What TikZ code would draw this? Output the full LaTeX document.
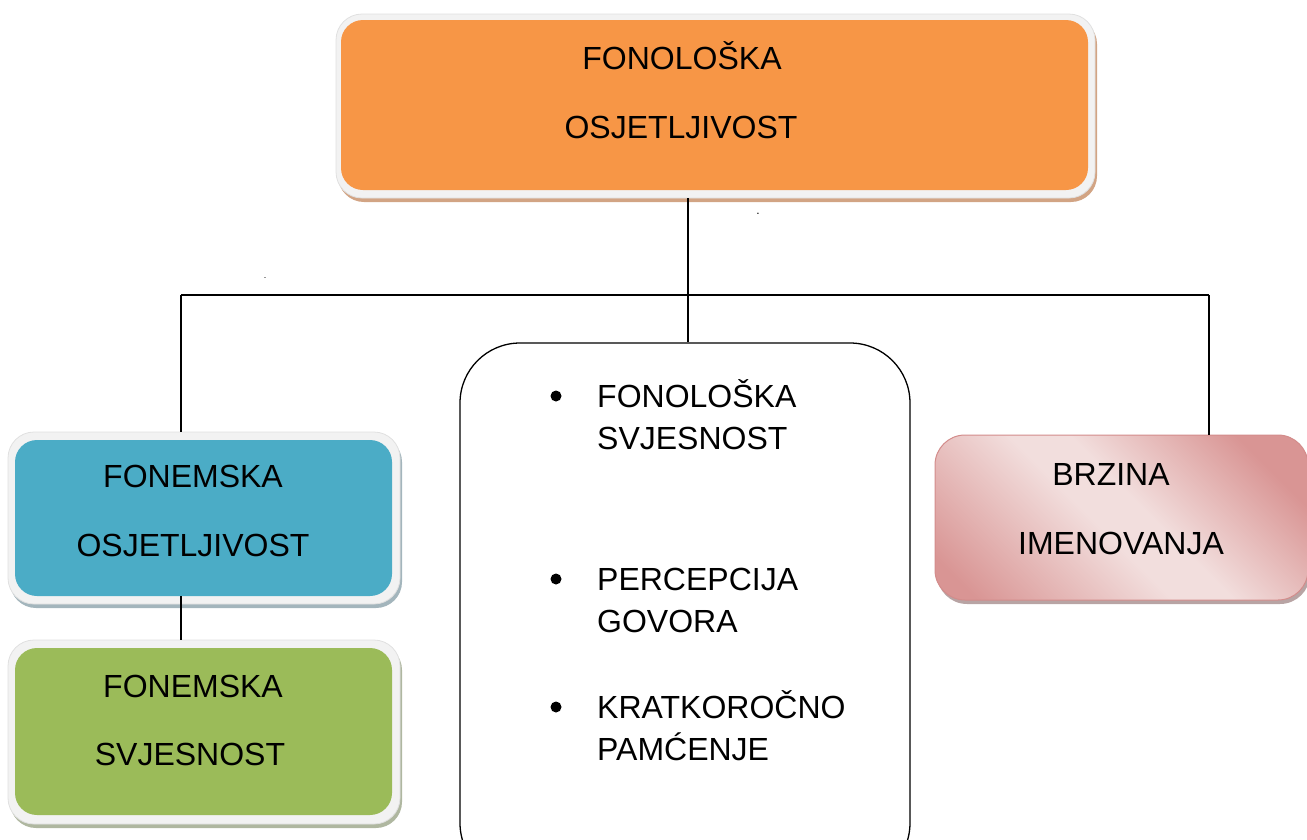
\documentclass[tikz,border=0pt]{standalone}
\usepackage{fontspec}
\setmainfont{Liberation Sans}
\usetikzlibrary{calc}
\definecolor{orfill}{HTML}{F79646}
\definecolor{orshadow}{HTML}{D2A484}
\definecolor{blfill}{HTML}{4BACC6}
\definecolor{blshadow}{HTML}{A3B5BC}
\definecolor{grfill}{HTML}{9BBB59}
\definecolor{grshadow}{HTML}{AFB7A0}
\definecolor{cardbg}{HTML}{F2F2F2}
\definecolor{cardedge}{HTML}{E0E0E0}
\definecolor{pklight}{HTML}{F2DEDD}
\definecolor{pkdark}{HTML}{D99594}
\definecolor{pkedge}{HTML}{D38C8B}
\definecolor{pkshadow}{HTML}{B8A4A4}
\pgfdeclareverticalshading{pinkband}{100bp}{color(0bp)=(pkdark); color(20bp)=(pkdark); color(46bp)=(pklight); color(54bp)=(pklight); color(76bp)=(pkdark); color(100bp)=(pkdark)}
\newcommand\boxfont{\fontsize{32}{40}\selectfont}
\tikzset{
  card/.style={draw=cardedge, line width=0.8pt, fill=cardbg, rounded corners=26pt, inner sep=0pt},
  cardin/.style={fill=#1, rounded corners=22pt, inner sep=0pt},
  txt/.style={font=\boxfont, anchor=base, inner sep=0pt},
  ltxt/.style={font=\boxfont, anchor=base west, inner sep=0pt},
  conn/.style={line width=2pt, black},
  bul/.style={circle, fill=black, inner sep=0pt, minimum size=11pt},
}
\begin{document}
\begin{tikzpicture}[x=1pt, y=-1pt]
\useasboundingbox (0,0) rectangle (1307,839);
\clip (0,0) rectangle (1307,839);
% shadows
\fill[orshadow, rounded corners=26pt] (338,18) rectangle (1097,202);
\fill[blshadow, rounded corners=26pt] (10,436) rectangle (402,608);
\fill[grshadow, rounded corners=26pt] (10,644) rectangle (402,828);
\fill[pkshadow, rounded corners=30pt] (937,439) rectangle (1310,604);
% top box
\node[card, minimum width=759pt, minimum height=184pt] (topouter) at (715.5,106) {};
\node[cardin=orfill, minimum width=747pt, minimum height=170pt] (top) at (714.5,105) {};
\node[txt] (t1) at (682,69) {FONOLOŠKA};
\node[txt] (t2) at (681,138) {OSJETLJIVOST};
% blue box
\node[card, minimum width=392pt, minimum height=172pt] (blueouter) at (204,518) {};
\node[cardin=blfill, minimum width=377pt, minimum height=156pt] (blue) at (203.5,518) {};
\node[txt] (b1) at (193,487) {FONEMSKA};
\node[txt] (b2) at (193,556) {OSJETLJIVOST};
% green box
\node[card, minimum width=392pt, minimum height=184pt] (greenouter) at (204,732) {};
\node[cardin=grfill, minimum width=377pt, minimum height=167pt] (green) at (203.5,731.5) {};
\node[txt] (g1) at (193,697) {FONEMSKA};
\node[txt] (g2) at (190,765) {SVJESNOST};
% pink box
\path[shading=pinkband, shading angle=-45, rounded corners=30pt] (935,435) rectangle (1308,600);
\node[draw=pkedge, line width=1pt, rounded corners=30pt, minimum width=373pt, minimum height=165pt, inner sep=0pt] (pink) at (1121.5,517.5) {};
\node[txt] (p1) at (1111,485) {BRZINA};
\node[txt] (p2) at (1121,554) {IMENOVANJA};
% middle box
\node[draw=black, line width=1.3pt, fill=white, rounded corners=60pt, minimum width=450pt, minimum height=540pt, inner sep=0pt] (mid) at (685,613) {};
\node[bul] (m1b) at (556,396) {};
\node[ltxt] (m1) at (597,407) {FONOLOŠKA};
\node[ltxt] (m1x) at (597,449) {SVJESNOST};
\node[bul] (m2b) at (556,579) {};
\node[ltxt] (m2) at (597,590) {PERCEPCIJA};
\node[ltxt] (m2x) at (597,632) {GOVORA};
\node[bul] (m3b) at (556,707) {};
\node[ltxt] (m3) at (597,718) {KRATKOROČNO};
\node[ltxt] (m3x) at (597,760) {PAMĆENJE};
% stray dots
\node[font=\fontsize{12}{12}\selectfont, inner sep=0pt] (d1) at (758,214) {.};
\node[font=\fontsize{9}{9}\selectfont, inner sep=0pt] (d2) at (265,278) {.};
% connectors
\coordinate (j) at (688,295);
\coordinate (jl) at (181,295);
\coordinate (jr) at (1209,295);
\draw[conn] (topouter.south -| j) -- (j);
\draw[conn] (jl) -- (jr);
\draw[conn] (jl) -- (jl |- blueouter.north);
\draw[conn] (jr) -- (jr |- pink.north);
\draw[conn] (j) -- (j |- mid.north);
\draw[conn] (jl |- blue.south) -- (jl |- greenouter.north);
\end{tikzpicture}
\end{document}
